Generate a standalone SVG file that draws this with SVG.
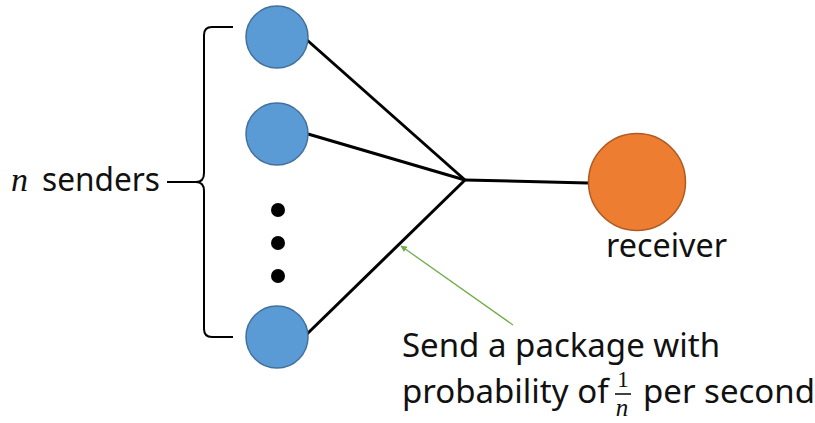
<svg xmlns="http://www.w3.org/2000/svg" width="815" height="423" viewBox="0 0 815 423">
<defs>
<style>
.sender{fill:#5B9BD5;stroke:#41719C;stroke-width:1.5}
.recv{fill:#ED7D31;stroke:#AE5A21;stroke-width:1.5}
.link{stroke:#000;stroke-width:3;fill:none}
.lbl{font-family:"Noto Sans","Liberation Sans",sans-serif;fill:#111;font-size:33px}
.math{font-family:"Liberation Serif","DejaVu Serif",serif;font-style:italic;fill:#111}
</style>
<marker id="ah" viewBox="0 0 10 10" refX="9" refY="5" markerWidth="5" markerHeight="5" orient="auto"><path d="M0,0 L10,5 L0,10 z" fill="#70AD47"/></marker>
</defs>
<rect width="815" height="423" fill="#fff"/>
<g id="connectors">
<line class="link" x1="307" y1="40" x2="465" y2="180"/>
<line class="link" x1="308" y1="134" x2="465" y2="180"/>
<line class="link" x1="307" y1="334" x2="465" y2="180"/>
<line class="link" x1="465" y1="180" x2="588" y2="183"/>
<line x1="513" y1="325" x2="401" y2="246" stroke="#70AD47" stroke-width="1.3" marker-end="url(#ah)"/>
</g>
<g id="sender1"><circle class="sender" cx="277" cy="37" r="31"/></g>
<g id="sender2"><circle class="sender" cx="277" cy="134" r="31"/></g>
<g id="dots"><circle cx="278" cy="210" r="7" fill="#000"/><circle cx="278" cy="243" r="7" fill="#000"/><circle cx="278" cy="276" r="7" fill="#000"/></g>
<g id="senderN"><circle class="sender" cx="277" cy="337" r="31"/></g>
<g id="receiver"><circle class="recv" cx="637" cy="182" r="48.5"/>
<text class="lbl" x="606" y="257" textLength="121" lengthAdjust="spacingAndGlyphs">receiver</text></g>
<g id="brace">
<path d="M233,27 L212,27 Q204,27 204,35 L204,173 Q204,182 196,182 Q204,182 204,191 L204,329 Q204,337 212,337 L233,337" fill="none" stroke="#000" stroke-width="2"/>
<line x1="167" y1="182" x2="197" y2="182" stroke="#000" stroke-width="2"/>
<text x="11" y="191" font-size="34" class="math">n</text>
<text class="lbl" x="42" y="191" textLength="118" lengthAdjust="spacingAndGlyphs">senders</text>
</g>
<g id="note">
<text class="lbl" x="402" y="357">Send a package with</text>
<text class="lbl" x="402" y="403">probability of</text>
<text x="623" y="387" font-size="23" font-family="Liberation Serif,serif" fill="#111" text-anchor="middle">1</text>
<line x1="615" y1="394" x2="631" y2="394" stroke="#111" stroke-width="1.6"/>
<text x="622" y="416" font-size="25" class="math" text-anchor="middle">n</text>
<text class="lbl" x="643" y="403">per second</text>
</g>
</svg>
